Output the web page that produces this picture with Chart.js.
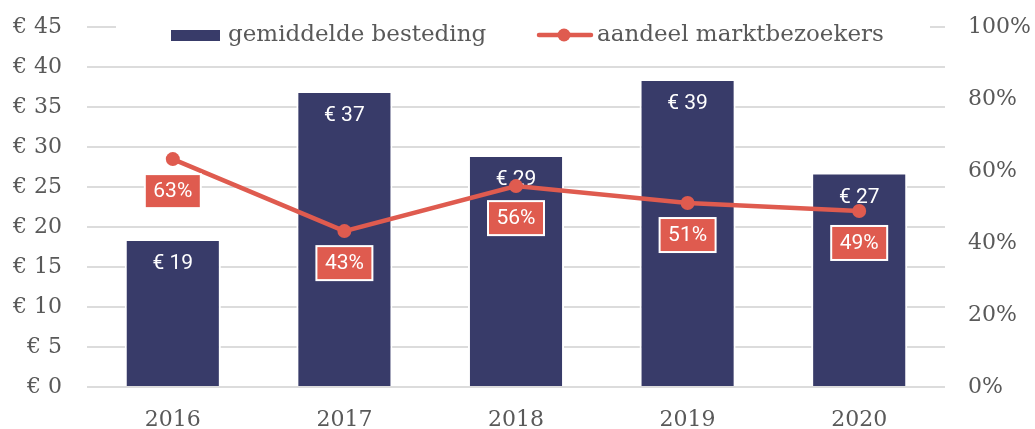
<!DOCTYPE html>
<html>
<head>
<meta charset="utf-8">
<script src="https://cdn.jsdelivr.net/npm/chart.js@4"></script>
<style>
  html, body { margin: 0; background: #fff; }
  #wrap { width: 1035px; height: 429px; }
</style>
</head>
<body>
<div id="wrap"><canvas id="chart"></canvas></div>
<script>
const years = ['2016', '2017', '2018', '2019', '2020'];
const spending = [18.5, 37, 29, 38.5, 26.8];
const spendingLabels = ['€ 19', '€ 37', '€ 29', '€ 39', '€ 27'];
const visitorShare = [63.3, 43.3, 55.8, 51.1, 48.9];
const shareLabels = ['63%', '43%', '56%', '51%', '49%'];
const seriesNames = ['gemiddelde besteding', 'aandeel marktbezoekers'];

const navy = '#383b69';
const red = '#df5b4f';
const axisFont = { family: '"DejaVu Serif", serif', size: 22 };

// value labels inside bars and boxed percentages under the points
const valueLabels = {
  id: 'valueLabels',
  afterDatasetDraw(chart, args) {
    const ctx = chart.ctx;
    ctx.save();
    ctx.font = '21px Roboto';
    ctx.textAlign = 'center';
    ctx.textBaseline = 'middle';
    if (args.index === 0) {
      chart.getDatasetMeta(0).data.forEach((bar, i) => {
        ctx.fillStyle = '#fff';
        ctx.fillText(spendingLabels[i], bar.x, bar.y + 25);
      });
    } else {
      chart.getDatasetMeta(1).data.forEach((pt, i) => {
        const w = ctx.measureText(shareLabels[i]).width + 15;
        const h = 32;
        const cy = pt.y + 32;
        ctx.fillStyle = '#fff';
        ctx.fillRect(pt.x - w / 2 - 2, cy - h / 2 - 2, w + 4, h + 4);
        ctx.fillStyle = red;
        ctx.fillRect(pt.x - w / 2, cy - h / 2, w, h);
        ctx.fillStyle = '#fff';
        ctx.fillText(shareLabels[i], pt.x, cy + 1);
      });
    }
    ctx.restore();
  }
};

// legend sitting on top of the plot, like the original
const overlayLegend = {
  id: 'overlayLegend',
  afterDraw(chart) {
    const ctx = chart.ctx;
    ctx.save();
    ctx.fillStyle = '#fff';
    ctx.fillRect(116, 14, 814, 36);
    ctx.fillStyle = navy;
    ctx.fillRect(171, 30, 49, 11);
    ctx.font = '23px "DejaVu Serif", serif';
    ctx.textBaseline = 'middle';
    ctx.fillStyle = '#595959';
    ctx.fillText(seriesNames[0], 228, 35);
    ctx.strokeStyle = red;
    ctx.lineWidth = 4.5;
    ctx.lineCap = 'round';
    ctx.beginPath();
    ctx.moveTo(539, 35);
    ctx.lineTo(591, 35);
    ctx.stroke();
    ctx.fillStyle = red;
    ctx.beginPath();
    ctx.arc(564, 35, 6.5, 0, Math.PI * 2);
    ctx.fill();
    ctx.fillStyle = '#595959';
    ctx.fillText(seriesNames[1], 597, 35);
    ctx.restore();
  }
};

function fixVertical(width) {
  return scale => {
    scale.width = width;
    scale.paddingTop = 0;
    scale.paddingBottom = 0;
  };
}

new Chart(document.getElementById('chart'), {
  data: {
    labels: years,
    datasets: [{
      type: 'bar',
      label: seriesNames[0],
      data: spending,
      yAxisID: 'y',
      backgroundColor: navy,
      borderColor: '#fff',
      borderWidth: 2,
      barPercentage: 0.56,
      categoryPercentage: 1,
      order: 1
    }, {
      type: 'line',
      label: seriesNames[1],
      data: visitorShare,
      yAxisID: 'y1',
      borderColor: red,
      backgroundColor: red,
      borderWidth: 4.5,
      pointRadius: 7,
      pointBackgroundColor: red,
      pointBorderWidth: 0,
      tension: 0,
      order: 0
    }]
  },
  options: {
    responsive: true,
    maintainAspectRatio: false,
    animation: false,
    layout: { padding: { top: 27, left: 0, right: 0, bottom: 0 } },
    plugins: {
      legend: { display: false },
      tooltip: { enabled: false }
    },
    scales: {
      x: {
        grid: { display: false },
        border: { display: false },
        ticks: { color: '#595959', font: axisFont, padding: 12 },
        afterFit(scale) { scale.height = 42; }
      },
      y: {
        position: 'left',
        min: 0,
        max: 45,
        ticks: {
          stepSize: 5,
          color: '#595959',
          font: axisFont,
          padding: 25,
          callback: v => '€ ' + v
        },
        grid: { color: '#dcdcdc', lineWidth: 2, drawTicks: false },
        border: { display: false },
        afterFit: fixVertical(87)
      },
      y1: {
        position: 'right',
        min: 0,
        max: 100,
        ticks: {
          stepSize: 20,
          color: '#595959',
          font: axisFont,
          padding: 23,
          callback: v => v + '%'
        },
        grid: { display: false, drawTicks: false },
        border: { display: false },
        afterFit: fixVertical(90)
      }
    }
  },
  plugins: [valueLabels, overlayLegend]
});
</script>
</body>
</html>
